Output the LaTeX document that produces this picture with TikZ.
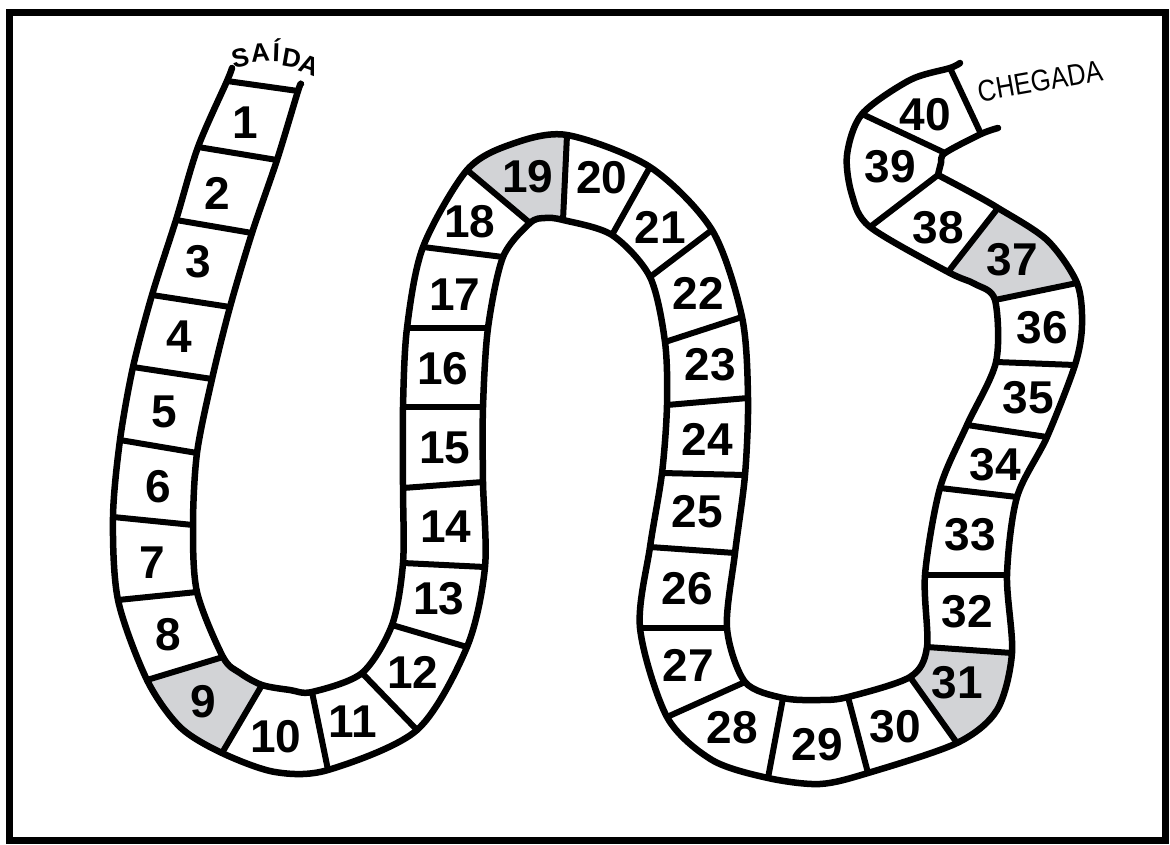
\documentclass[tikz,border=0pt]{standalone}
\usepackage{fontspec}
\setmainfont{Liberation Sans}
\newfontfamily\narrowsans[FakeStretch=0.85]{Liberation Sans}
\definecolor{cellgray}{RGB}{210,211,214}
\begin{document}
\begin{tikzpicture}[x=1pt, y=-1pt, line cap=round, line join=round,
	edge/.style={line width=6.5pt},
	rung/.style={line width=6pt, line cap=butt},
	num/.style={font=\fontsize{46}{46}\selectfont\bfseries, inner sep=0pt},
	tag/.style={font=\narrowsans\fontsize{30}{30}\selectfont, inner sep=0pt}]
	\useasboundingbox (0,0) rectangle (1170,845);
	\draw[line width=7pt, line cap=butt, line join=miter] (9,13) rectangle (1165,840);
	% bordas das casas: lado A e lado B
	\foreach \k/\ax/\ay/\bx/\by in {
		0/227/81/298/91, 1/198/147/277/160, 2/176/220/252/233, 3/152/295/230/307,
		4/133/367/212/379, 5/120/440/197/453, 6/113/517/193/525, 7/118/600/197/592,
		8/147/680/223/657, 9/222/753/262/685, 10/328/770/312/692, 11/417/730/362/673,
		12/467/647/392/625, 13/485/567/403/563, 14/483/482/403/488, 15/483/407/403/407,
		16/488/328/407/328, 17/503/257/423/247, 18/530/223/467/170, 19/563/220/567/135,
		20/612/235/650/167, 21/650/277/712/230, 22/665/342/742/317, 23/667/405/748/398,
		24/662/473/745/475, 25/650/547/735/553, 26/640/628/727/628, 27/667/717/745/682,
		28/768/778/783/698, 29/868/773/848/697, 30/957/743/910/677, 31/1012/653/927/647,
		32/1007/575/925/575, 33/1017/497/940/488, 34/1047/437/967/425, 35/1075/365/996/362,
		36/1077/283/995/300, 37/998/208/948/272, 38/938/175/870/227, 39/945/153/862/114,
		40/981/134/950/68} {
		\coordinate (A\k) at (\ax,\ay);
		\coordinate (B\k) at (\bx,\by);
	}
	% pontos do meio das casas cinzentas
	\coordinate (mA9) at (180,727);   \coordinate (mB9) at (240,673);
	\coordinate (mA19) at (545,218);  \coordinate (mB19) at (512,144);
	\coordinate (mA31) at (997,710);  \coordinate (mB31) at (919,664);
	\coordinate (mA37) at (1047,240); \coordinate (mB37) at (975,284);
	\foreach \n/\p in {9/8, 19/18, 31/30, 37/36} {
		\fill[cellgray] plot[smooth] coordinates {(A\p) (mA\n) (A\n)}
			-- plot[smooth] coordinates {(B\n) (mB\n) (B\p)} -- cycle;
	}
	\foreach \k in {0,...,40} {
		\draw[rung] (A\k) -- (B\k);
	}
	\draw[edge] plot[smooth] coordinates {(232,68) (A0) (A1) (A2) (A3) (A4) (A5) (A6) (A7) (A8)
		(mA9) (A9) (275,772) (A10) (A11) (A12) (A13) (A14) (A15) (A16) (A17) (A18) (mA19) (A19)
		(A20) (A21) (A22) (A23) (A24) (A25) (A26) (A27) (712,760) (A28) (820,784) (A29) (A30)
		(mA31) (A31) (A32) (A33) (A34) (A35) (1082,325) (A36) (mA37) (A37) (970,192) (A38)};
	\draw[edge] plot[smooth] coordinates {(A38) (941,163) (A39) (A40) (998,128)};
	\draw[edge] plot[smooth] coordinates {(301,84) (B0) (B1) (B2) (B3) (B4) (B5) (B6) (B7) (B8)
		(mB9) (B9) (290,690) (B10) (B11) (B12) (B13) (B14) (B15) (B16) (B17) (B18) (mB19) (B19)
		(B20) (B21) (B22) (B23) (B24) (B25) (B26) (B27) (B28) (820,700) (B29) (B30) (B31)
		(B32) (B33) (B34) (B35) (B36) (mB37) (B37) (B38) (852,195) (847,155) (B39)
		(910,80) (B40) (960,63)};
	% numeros
	\foreach \n/\x/\y in {1/245/123, 2/217/193, 3/198/262, 4/179/337, 5/164/412, 6/158/487,
		7/152/563, 8/168/635, 9/203/702, 10/276/737, 11/353/722, 12/413/672, 13/439/599,
		14/446/527, 15/445/448, 16/443/369, 17/455/295, 18/470/222, 19/528/177, 20/602/178,
		21/660/227, 22/698/293, 23/710/365, 24/707/439, 25/697/512, 26/687/589, 27/688/665,
		28/732/728, 29/817/745, 30/895/727, 31/957/683, 32/967/612, 33/970/535, 34/995/465,
		35/1028/398, 36/1042/328, 37/1012/260, 38/938/228, 39/890/167, 40/925/115} {
		\node[num] (c\n) at (\x,\y) {\n};
	}
	% SAIDA em arco
	\foreach \l/\x/\y/\r [count=\i] in {S/242/67/12, A/261/62/5, Í/276/62/-2, D/290/67/-10, A/306/74/-20} {
		\node[tag, font=\fontsize{26}{26}\selectfont\bfseries, anchor=base, rotate=\r] (s\i) at (\x,\y) {\l};
	}
	\node[tag, rotate=10] (chegada) at (1040,81) {CHEGADA};
\end{tikzpicture}
\end{document}
